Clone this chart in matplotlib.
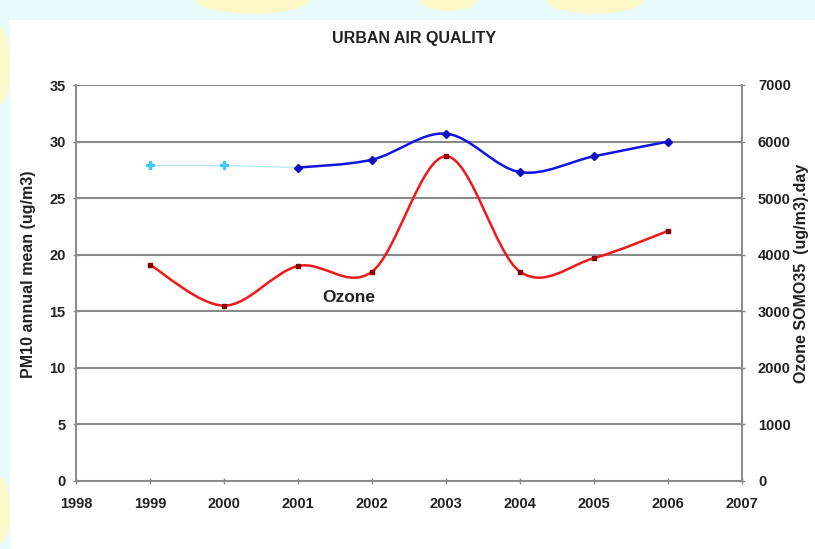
import numpy as np
import matplotlib.pyplot as plt
from matplotlib.path import Path
from matplotlib.patches import PathPatch, Rectangle, Ellipse

plt.rcParams['font.family'] = ['Liberation Sans', 'DejaVu Sans']

# ---------------- data ----------------
years = [1999, 2000, 2001, 2002, 2003, 2004, 2005, 2006]
pm10_early_years = [1999, 2000, 2001]
pm10_early = [27.9, 27.9, 27.7]
pm10_years = [2001, 2002, 2003, 2004, 2005, 2006]
pm10 = [27.7, 28.4, 30.7, 27.3, 28.7, 30.0]
ozone = [3820, 3100, 3800, 3700, 5740, 3700, 3940, 4420]

x_ticks = list(range(1998, 2008))
left_ticks = [0, 5, 10, 15, 20, 25, 30, 35]
right_ticks = [0, 1000, 2000, 3000, 4000, 5000, 6000, 7000]


def smooth_path(x, y):
    # excel style smoothed line: cubic bezier segments through the points
    x = np.asarray(x, float)
    y = np.asarray(y, float)
    n = len(x)
    verts = [(x[0], y[0])]
    codes = [Path.MOVETO]
    for i in range(n - 1):
        xa, ya = (x[i - 1], y[i - 1]) if i > 0 else (x[i], y[i])
        xb, yb = (x[i + 2], y[i + 2]) if i + 2 < n else (x[i + 1], y[i + 1])
        c1 = (x[i] + (x[i + 1] - xa) / 6, y[i] + (y[i + 1] - ya) / 6)
        c2 = (x[i + 1] - (xb - x[i]) / 6, y[i + 1] - (yb - y[i]) / 6)
        verts += [c1, c2, (x[i + 1], y[i + 1])]
        codes += [Path.CURVE4] * 3
    return Path(verts, codes)


fig = plt.figure(figsize=(8.15, 5.49), dpi=100, facecolor='#e9fafc')
# pale yellow blobs of the slide background along the edges
for (cx, cy, w, h) in [(0.31, 1.0, 0.14, 0.05), (0.73, 1.0, 0.12, 0.05),
                       (0.55, 1.0, 0.07, 0.04), (0.0, 0.88, 0.025, 0.14),
                       (0.0, 0.07, 0.025, 0.12)]:
    fig.patches.append(Ellipse((cx, cy), w, h, transform=fig.transFigure,
                               facecolor='#fcf8c8', edgecolor='none', zorder=0))
fig.patches.append(Rectangle((10 / 815, 0), 1, 1 - 20 / 549, transform=fig.transFigure,
                             facecolor='white', edgecolor='none', zorder=1))

ax = fig.add_axes([76 / 815, 1 - 481 / 549, (742 - 76) / 815, (481 - 85) / 549])
ax.set_zorder(2)
ax.patch.set_alpha(0)
ax2 = ax.twinx()

grey = '#8a8a8a'
txt = '#222222'
ax.set_xlim(1998, 2007)
ax.set_ylim(0, 35)
ax2.set_ylim(0, 7000)
ax.set_xticks(x_ticks)
ax.set_yticks(left_ticks)
ax2.set_yticks(right_ticks)

for t in left_ticks:
    ax.axhline(t, color=grey, lw=1.5, zorder=0)

for a in (ax, ax2):
    for s in a.spines.values():
        s.set_color(grey)
        s.set_linewidth(1.2)
    a.spines['top'].set_visible(False)
    a.tick_params(direction='inout', length=5, width=1, color=grey,
                  labelsize=10.5)
    for lab in a.get_xticklabels() + a.get_yticklabels():
        lab.set_fontweight('bold')
        lab.set_color(txt)
ax.tick_params(axis='x', pad=9)
ax.tick_params(axis='y', pad=5)
ax2.tick_params(axis='y', pad=9)

# PM10 early years (light blue)
ax.plot(pm10_early_years[:2], pm10_early[:2], ls='none', marker='P', ms=6,
        color='#44c8ee', zorder=4)
ax.plot(pm10_early_years, pm10_early, color='#b2eaf7', lw=0.9, zorder=3)

# PM10 smoothed (dark blue)
ax.add_patch(PathPatch(smooth_path(pm10_years, pm10), facecolor='none',
                       edgecolor='#1414e0', lw=1.8, zorder=4))
ax.plot(pm10_years, pm10, ls='none', marker='D', ms=4.5, color='#1010c0', zorder=5)

# Ozone smoothed (red) on right axis
ax2.add_patch(PathPatch(smooth_path(years, ozone), facecolor='none',
                        edgecolor='#f01818', lw=1.8, zorder=4))
ax2.plot(years, ozone, ls='none', marker='s', ms=2.5, color='#8a0000', zorder=5)

ax.text(2001.69, 16.2, 'Ozone', fontsize=12.5, fontweight='bold', color=txt,
        ha='center', va='center', zorder=6)

ax.set_ylabel('PM10 annual mean (ug/m3)', fontsize=11.5, fontweight='bold', color=txt)
ax2.set_ylabel('Ozone SOMO35  (ug/m3).day', fontsize=11.5, fontweight='bold', color=txt)
ax.yaxis.set_label_coords(36 / 815, 1 - 274 / 549, transform=fig.transFigure)
ax2.yaxis.set_label_coords(794 / 815, 1 - 273 / 549, transform=fig.transFigure)

fig.text(414 / 815, 1 - 38 / 549, 'URBAN AIR QUALITY', fontsize=11.5, fontweight='bold',
         ha='center', va='center', color=txt, zorder=3)

fig.savefig('out.png', dpi=100, facecolor=fig.get_facecolor())
